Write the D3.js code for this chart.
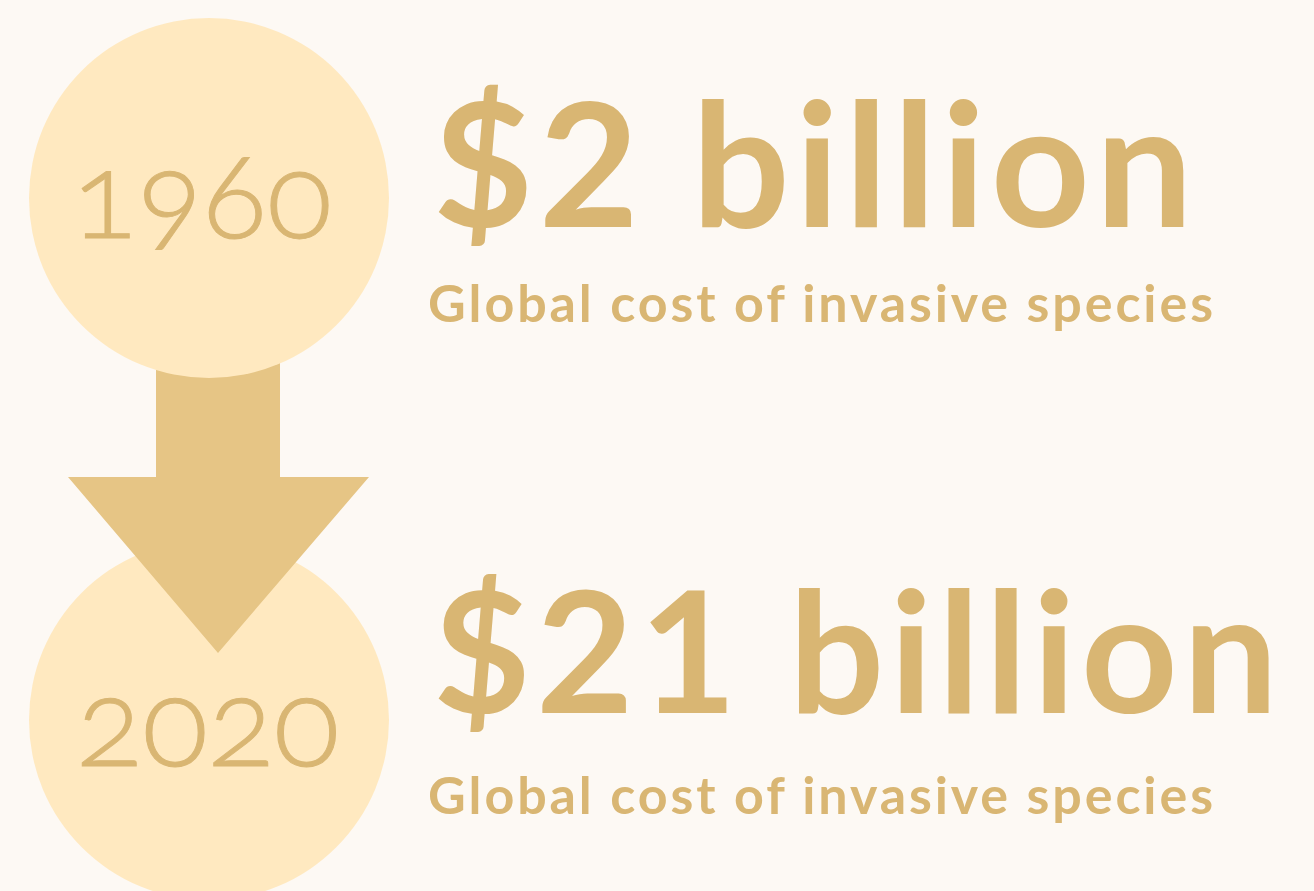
<!DOCTYPE html>
<html lang="en">
<head>
    <meta charset="UTF-8">
    <title>Global cost of invasive species</title>
    <script src="https://cdn.jsdelivr.net/npm/d3@7"></script>
    <style>
        body { margin: 0; background: #fdf9f4; }
        svg { display: block; }
    </style>
</head>
<body>
<script>
    const years = ['1960', '2020']
    const costs = [2, 21]   // billion USD
    const subtitles = ['Global cost of invasive species', 'Global cost of invasive species']

    const [width, height] = [1314, 891]
    const bg = '#fdf9f4', circleFill = '#ffe9c0', arrowFill = '#e6c585', textFill = '#d9b673'

    const svg = d3.select('body').append('svg')
        .attr('width', width)
        .attr('height', height)
    svg.append('rect').attr('width', width).attr('height', height).attr('fill', bg)

    // rows: one per year, centre of each circle
    const y = d3.scalePoint().domain(years).range([198, 720])
    const cx = 209, r = 180

    // fit a text element to a target width by changing font-size
    const fit = (sel, w) => {
        const fs = parseFloat(sel.attr('font-size'))
        const len = sel.node().getComputedTextLength()
        sel.attr('font-size', fs * w / len)
    }

    // lower circle first, then the arrow, then the upper circle on top
    svg.append('circle').attr('cx', cx).attr('cy', y(years[1])).attr('r', r).attr('fill', circleFill)

    const ax = 218
    const shaftTop = y(years[0]) + 150, headTop = 477, tip = 653
    svg.append('path')
        .attr('fill', arrowFill)
        .attr('d', d3.line()([
            [ax - 62, shaftTop], [ax + 62, shaftTop], [ax + 62, headTop], [ax + 151, headTop],
            [ax, tip], [ax - 150, headTop], [ax - 62, headTop]
        ]) + 'Z')

    svg.append('circle').attr('cx', cx).attr('cy', y(years[0])).attr('r', r).attr('fill', circleFill)

    const rows = svg.selectAll('g.row')
        .data(years.map((yr, i) => ({ year: yr, cost: costs[i], sub: subtitles[i] })))
        .enter().append('g')
        .attr('class', 'row')
        .attr('transform', d => `translate(0, ${y(d.year)})`)

    rows.append('text')
        .attr('x', (d, i) => i === 0 ? 202 : 208)
        .attr('y', (d, i) => i === 0 ? 40 : 46)
        .attr('text-anchor', 'middle')
        .attr('font-family', 'Lato, sans-serif')
        .attr('font-weight', 300)
        .attr('font-size', 100)
        .attr('fill', textFill)
        .attr('stroke', textFill)
        .attr('stroke-width', 1)
        .style('font-variant-numeric', 'oldstyle-nums')
        .text(d => d.year)
        .each(function (d, i) { fit(d3.select(this), i === 0 ? 260 : 263) })

    // big amount: size set by height, then letter spacing stretched to the reference width
    rows.append('text')
        .attr('x', 433)
        .attr('y', (d, i) => i === 0 ? 29 : -7)
        .attr('font-family', 'Lato, sans-serif')
        .attr('font-weight', 700)
        .attr('font-size', (d, i) => i === 0 ? 170 : 168)
        .attr('fill', textFill)
        .text(d => `$${d.cost} billion`)
        .each(function (d, i) {
            const s = d3.select(this)
            fit(s, i === 0 ? 760 : 845)
            s.attr('font-size', parseFloat(s.attr('font-size')) * 0.935)
        })
        .attr('textLength', (d, i) => i === 0 ? 760 : 845)
        .attr('lengthAdjust', 'spacing')

    rows.append('text')
        .attr('x', 428)
        .attr('y', (d, i) => i === 0 ? 124 : 94)
        .attr('font-family', 'Lato, sans-serif')
        .attr('font-weight', 700)
        .attr('font-size', 52)
        .attr('fill', textFill)
        .text(d => d.sub)
        .attr('textLength', 785)
        .attr('lengthAdjust', 'spacing')
</script>
</body>
</html>
